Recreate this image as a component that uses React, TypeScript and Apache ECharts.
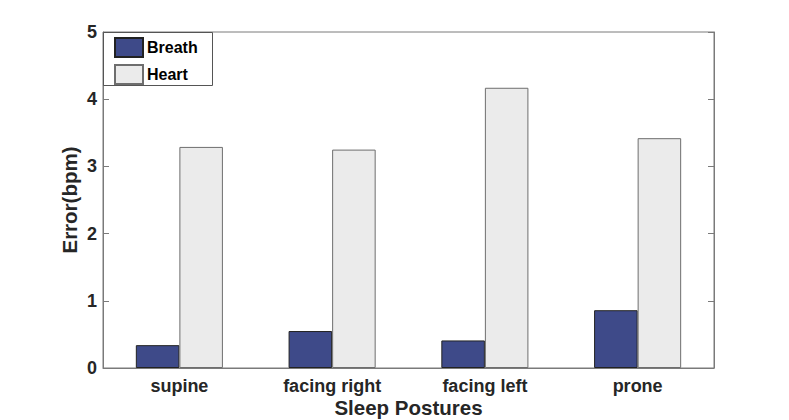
import React, { useEffect, useRef } from "react";
import * as echarts from "echarts";

const categories = ["supine", "facing right", "facing left", "prone"];
const breath = [0.34, 0.55, 0.41, 0.86];
const heart = [3.29, 3.25, 4.17, 3.42];
const yTicks = [0, 1, 2, 3, 4, 5];

const FONT = "'Liberation Sans', Arial, Helvetica, sans-serif";

export default function App() {
  const ref = useRef<HTMLDivElement>(null);
  useEffect(() => {
    if (!ref.current) return;
    const chart = echarts.init(ref.current, null, { renderer: "svg" });
    const axisColor = "#7a7a7a";
    chart.setOption({
      animation: false,
      backgroundColor: "#ffffff",
      textStyle: { fontFamily: FONT },
      grid: {
        left: 103,
        right: 75,
        top: 32,
        bottom: 52,
        outerBoundsMode: "none",
        containLabel: false,
        show: true,
        borderColor: axisColor,
        borderWidth: 1,
        backgroundColor: "transparent",
      },
      legend: {
        data: ["Breath", "Heart"],
        orient: "vertical",
        left: 114,
        top: 37,
        icon: "rect",
        itemWidth: 28,
        itemHeight: 19,
        itemGap: 6,
        padding: 0,
        textStyle: { fontFamily: FONT, fontWeight: "bold", fontSize: 16, color: "#000", padding: [0, 0, 0, -1] },
      },
      graphic: [
        {
          type: "rect",
          left: 103,
          top: 32,
          shape: { width: 109, height: 53 },
          style: { fill: "transparent", stroke: "#555", lineWidth: 1 },
          z: 10,
        },
      ],
      xAxis: {
        type: "category",
        data: categories,
        name: "Sleep Postures",
        nameLocation: "middle",
        nameGap: 29,
        nameMoveOverlap: false,
        nameTextStyle: { fontFamily: FONT, fontWeight: "bold", fontSize: 20.5, color: "#262626" },
        axisLine: { show: true, lineStyle: { color: axisColor } },
        axisTick: { show: false },
        axisLabel: { fontFamily: FONT, fontWeight: "bold", fontSize: 18, color: "#262626", margin: 9 },
      },
      yAxis: [
        {
          type: "value",
          min: 0,
          max: 5,
          interval: 1,
          name: "Error(bpm)",
          nameLocation: "middle",
          nameGap: 23,
          nameMoveOverlap: false,
          nameTextStyle: { fontFamily: FONT, fontWeight: "bold", fontSize: 20.5, color: "#262626" },
          axisLine: { show: true, lineStyle: { color: axisColor } },
          axisTick: { show: true, inside: true, length: 6, lineStyle: { color: axisColor } },
          splitLine: { show: false },
          axisLabel: {
            fontFamily: FONT,
            fontWeight: "bold",
            fontSize: 18,
            color: "#262626",
            margin: 6,
            formatter: (v: number) => (yTicks.includes(v) ? String(v) : ""),
          },
        },
        {
          type: "value",
          position: "right",
          min: 0,
          max: 5,
          interval: 1,
          axisLine: { show: true, lineStyle: { color: axisColor } },
          axisTick: { show: true, inside: true, length: 6, lineStyle: { color: axisColor } },
          splitLine: { show: false },
          axisLabel: { show: false },
        },
      ],
      series: [
        {
          name: "Breath",
          type: "bar",
          data: breath,
          barWidth: "28.5%",
          barGap: "0%",
          itemStyle: { color: "#3e4a89", borderColor: "#222", borderWidth: 1 },
        },
        {
          name: "Heart",
          type: "bar",
          data: heart,
          barWidth: "28.5%",
          barGap: "0%",
          itemStyle: { color: "#ebebeb", borderColor: "#6e6e6e", borderWidth: 1 },
        },
      ],
    });
    return () => chart.dispose();
  }, []);
  return <div ref={ref} style={{ width: 789, height: 420, position: "absolute", left: 0, top: 0 }} />;
}
